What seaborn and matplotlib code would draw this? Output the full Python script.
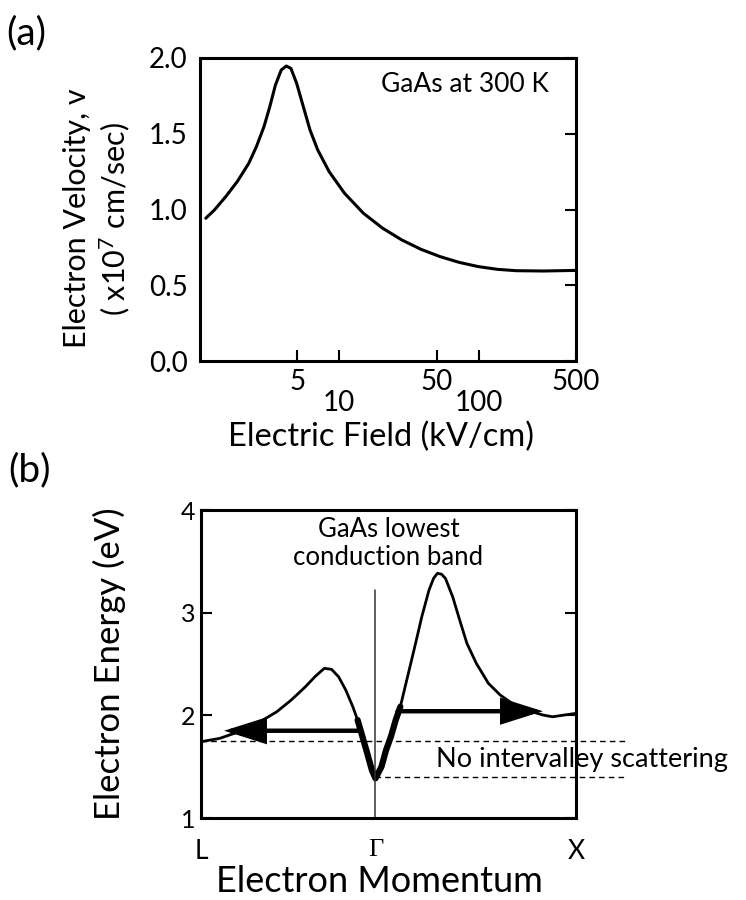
import numpy as np
import pandas as pd
import matplotlib
matplotlib.use("Agg")
import matplotlib.pyplot as plt
from matplotlib.patches import FancyArrowPatch
from matplotlib.ticker import FixedLocator, FixedFormatter
import seaborn as sns

# ---------------- data: panel (a) ----------------
field_kv_cm = [1.10, 1.27, 1.53, 1.85, 2.24, 2.54, 2.88, 3.17, 3.48, 3.83, 4.16, 4.49,
               4.94, 5.43, 6.16, 7.0, 8.45, 10.9, 14.9, 20.5, 28.1, 38.6, 52.9, 72.5,
               99.6, 136.6, 187.0, 292.0, 500.0]
velocity_1e7 = [0.942, 0.997, 1.085, 1.184, 1.305, 1.415, 1.547, 1.679, 1.822, 1.921, 1.947, 1.932,
                1.833, 1.701, 1.525, 1.393, 1.250, 1.107, 0.975, 0.876, 0.799, 0.737, 0.689, 0.651,
                0.623, 0.605, 0.596, 0.594, 0.598]
a_major_ticks = [5, 50, 500]
a_major_labels = ["5", "50", "500"]
a_minor_ticks = [10, 100]
a_minor_labels = ["10", "100"]
a_yticks = [0.0, 0.5, 1.0, 1.5, 2.0]
a_yticklabels = ["0.0", "0.5", "1.0", "1.5", "2.0"]

# ---------------- data: panel (b) ----------------
momentum = [-0.87, -0.776, -0.681, -0.575, -0.492, -0.420, -0.349, -0.302, -0.255, -0.219,
            -0.184, -0.148, -0.113, -0.089, -0.065, -0.041, -0.018, 0.0, 0.030, 0.053,
            0.077, 0.101, 0.124, 0.148, 0.172, 0.196, 0.231, 0.267, 0.290, 0.309, 0.329,
            0.349, 0.385, 0.420, 0.456, 0.503, 0.563, 0.622, 0.693, 0.764, 0.835, 0.883,
            0.942, 1.0]
energy_ev = [1.743, 1.776, 1.840, 1.938, 2.035, 2.149, 2.279, 2.376, 2.458, 2.448,
             2.376, 2.246, 2.084, 1.954, 1.792, 1.630, 1.467, 1.386, 1.500, 1.662,
             1.792, 1.954, 2.084, 2.279, 2.473, 2.668, 2.960, 3.220, 3.335, 3.383, 3.375,
             3.334, 3.155, 2.928, 2.701, 2.506, 2.312, 2.198, 2.100, 2.045, 2.003, 1.986,
             2.003, 2.019]
thick_range = (-0.089, 0.124)
k_points = [-0.87, 0.0, 1.0]
k_labels = ["L", "Γ", "X"]
b_yticks = [1, 2, 3, 4]
b_yticklabels = ["1", "2", "3", "4"]
left_arrow = ((-0.08, 1.85), (-0.755, 1.85))
right_arrow = ((0.11, 2.04), (0.835, 2.04))
upper_dash = (1.75, -0.87, 1.244)
lower_dash = (1.40, 0.0, 1.244)
gamma_line_top = 3.22

# ---------------- style ----------------
sns.set_theme(style="white")
FONT = ["Lato", "DejaVu Sans"]
plt.rcParams["font.family"] = FONT
plt.rcParams["mathtext.fontset"] = "custom"
plt.rcParams["mathtext.rm"] = "Lato"
plt.rcParams["mathtext.it"] = "Lato:italic"

fig = plt.figure(figsize=(7.46, 9.00), dpi=100)
ax_a = fig.add_axes([200/746, 1-361/900, 376/746, 303/900])
ax_b = fig.add_axes([201/746, 1-818/900, 375/746, 308/900])

SPINE_LW = 2.2
for ax in (ax_a, ax_b):
    for s in ax.spines.values():
        s.set_linewidth(SPINE_LW)
        s.set_color("black")
        s.set_visible(True)

# ---------------- panel (a) ----------------
df_a = pd.DataFrame({"field": field_kv_cm, "v": velocity_1e7})
sns.lineplot(data=df_a, x="field", y="v", ax=ax_a, color="black", lw=2.2,
             sort=False, estimator=None)
ax_a.set_xscale("log")
ax_a.set_xlim(1.0, 500)
ax_a.set_ylim(0, 2.0)
ax_a.xaxis.set_major_locator(FixedLocator(a_major_ticks))
ax_a.xaxis.set_major_formatter(FixedFormatter(a_major_labels))
ax_a.xaxis.set_minor_locator(FixedLocator(a_minor_ticks))
ax_a.xaxis.set_minor_formatter(FixedFormatter(a_minor_labels))
ax_a.tick_params(axis="x", which="major", direction="in", length=8, width=1.5,
                 labelsize=20, pad=6, bottom=True, top=False, colors="black")
ax_a.tick_params(axis="x", which="minor", direction="in", length=8, width=1.5,
                 labelsize=20, pad=21, bottom=True, top=False, colors="black")
ax_a.set_yticks(a_yticks)
ax_a.set_yticklabels(a_yticklabels)
ax_a.tick_params(axis="y", direction="in", length=8, width=1.5, left=False, right=True,
                 labelleft=True, labelright=False, labelsize=20, pad=9, colors="black")
ax_a.set_xlabel("Electric Field (kV/cm)", fontsize=23.5, color="black")
ax_a.xaxis.set_label_coords(0.481, -0.2)
ax_a.set_ylabel("Electron Velocity, v\n( x10$^{7}$ cm/sec)", fontsize=22,
                color="black", linespacing=1.25)
ax_a.yaxis.set_label_coords(-0.18, 0.47)
ax_a.text(0.481, 0.911, "GaAs at 300 K", transform=ax_a.transAxes, fontsize=19,
          ha="left", va="center", color="black")
fig.text(6/746, 1-33/900, "(a)", fontsize=28, ha="left", va="center", color="black")

# ---------------- panel (b) ----------------
df_b = pd.DataFrame({"k": momentum, "E": energy_ev})
sns.lineplot(data=df_b, x="k", y="E", ax=ax_b, color="black", lw=2.0,
             sort=False, estimator=None)
df_thick = df_b[(df_b["k"] >= thick_range[0]) & (df_b["k"] <= thick_range[1])]
sns.lineplot(data=df_thick, x="k", y="E", ax=ax_b, color="black", lw=4.5,
             sort=False, estimator=None, solid_capstyle="round")
ax_b.set_xlim(k_points[0], k_points[-1])
ax_b.set_ylim(1, 4)

# vertical line at Gamma
ax_b.plot([0, 0], [1, gamma_line_top], color="#333333", lw=1.1)
# dashed reference lines (extend past the frame)
for (yv, x0, x1) in (upper_dash, lower_dash):
    ax_b.plot([x0, x1], [yv, yv], color="black", lw=1.0, ls=(0, (4, 3)), clip_on=False)

# arrows
for (start, end) in (left_arrow, right_arrow):
    arr = FancyArrowPatch(start, end, arrowstyle="-|>,head_length=1.2,head_width=0.38",
                          mutation_scale=20, lw=3.2, color="black",
                          shrinkA=0, shrinkB=0, joinstyle="miter")
    ax_b.add_patch(arr)

ax_b.set_xticks(k_points)
ax_b.set_xticklabels(k_labels)
ax_b.tick_params(axis="x", length=0, labelsize=19, pad=15, colors="black")
for lbl in ax_b.get_xticklabels():
    if lbl.get_text() == "Γ":
        lbl.set_fontfamily(["Liberation Serif", "DejaVu Serif"])
ax_b.set_yticks(b_yticks)
ax_b.set_yticklabels(b_yticklabels)
ax_b.tick_params(axis="y", direction="in", length=8, width=1.5, left=True, right=True,
                 labelsize=18, pad=4, colors="black")
ax_b.set_xlabel("Electron Momentum", fontsize=26, color="black")
ax_b.xaxis.set_label_coords(0.475, -0.152)
ax_b.set_ylabel("Electron Energy (eV)", fontsize=25, color="black")
ax_b.yaxis.set_label_coords(-0.2, 0.5)
ax_b.text(0.5, 0.891, "GaAs lowest\nconduction band", transform=ax_b.transAxes,
          fontsize=18.5, ha="center", va="center", linespacing=1.15, color="black")
ax_b.text(0.30, 1.565, "No intervalley scattering", fontsize=19.5, ha="left",
          va="center", color="black", clip_on=False)
fig.text(8/746, 1-470/900, "(b)", fontsize=28, ha="left", va="center", color="black")

fig.savefig("out.png", dpi=100, facecolor="white")
